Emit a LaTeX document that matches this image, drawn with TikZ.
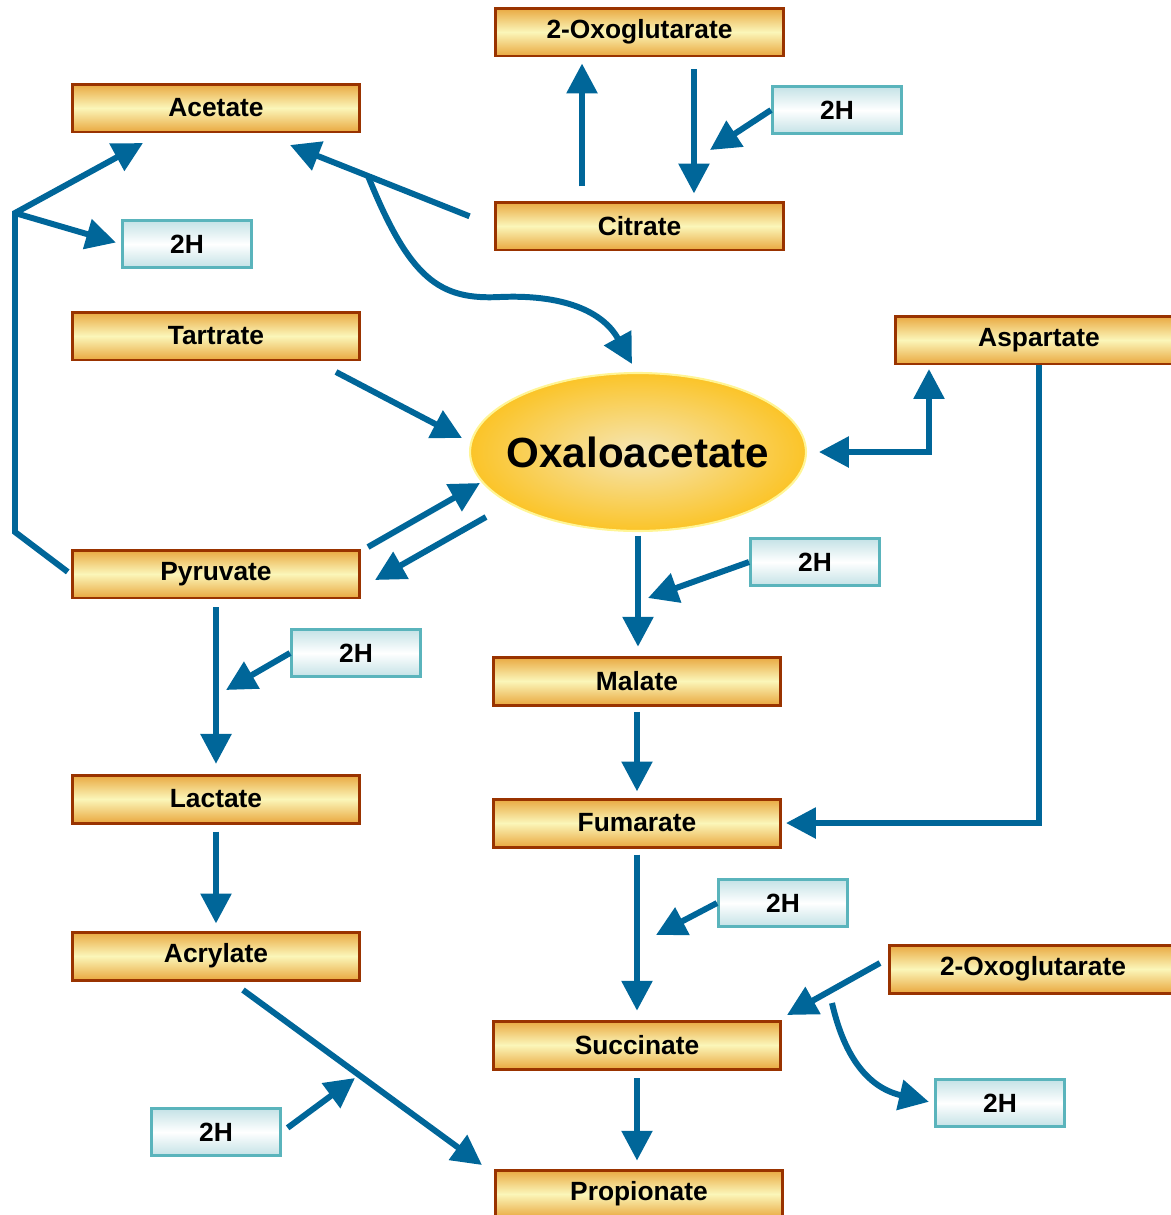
\documentclass[tikz,border=0pt]{standalone}
\usepackage{fontspec}
\setmainfont{Liberation Sans}
\usetikzlibrary{arrows.meta,shapes.geometric}
\definecolor{flow}{RGB}{0,102,153}
\definecolor{boxedge}{RGB}{153,51,0}
\definecolor{boxdark}{RGB}{233,168,64}
\definecolor{boxlight}{RGB}{251,246,185}
\definecolor{hedge}{RGB}{90,180,188}
\definecolor{hdark}{RGB}{196,226,230}
\definecolor{oxin}{RGB}{245,230,182}
\definecolor{oxout}{RGB}{251,196,40}
\definecolor{oxedge}{RGB}{255,245,150}

\begin{document}
\begin{tikzpicture}[x=0.02cm,y=-0.02cm,
    metab/.style={draw=boxedge,line width=1.7pt,top color=boxdark,bottom color=boxdark,middle color=boxlight,
      minimum width=5.76cm,minimum height=0.96cm,inner sep=0pt,font=\fontsize{15}{18}\selectfont\bfseries},
    hbox/.style={draw=hedge,line width=1.7pt,top color=hdark,bottom color=hdark,middle color=white,
      minimum width=2.58cm,minimum height=0.94cm,inner sep=0pt,font=\fontsize{15}{18}\selectfont\bfseries},
    arr/.style={draw=flow,line width=3.4pt,-{Triangle[length=17pt,width=17pt]}},
    arrb/.style={draw=flow,line width=3.4pt,{Triangle[length=17pt,width=17pt]}-{Triangle[length=17pt,width=17pt]}}]
        \useasboundingbox (0,0) rectangle (1171,1215);
        \node[metab] (oxotop) at (639.5,32) {2-Oxoglutarate};
        \node[metab] (acetate) at (216,108) {Acetate};
        \node[metab] (citrate) at (639.5,226) {Citrate};
        \node[metab] (tartrate) at (216,336) {Tartrate};
        \node[metab] (asp) at (1039,340) {Aspartate};
        \node[metab] (pyruvate) at (216,574) {Pyruvate};
        \node[metab] (malate) at (637,681) {Malate};
        \node[metab] (lactate) at (216,799) {Lactate};
        \node[metab] (fumarate) at (637,823) {Fumarate};
        \node[metab] (acrylate) at (216,956) {Acrylate};
        \node[metab] (oxobot) at (1033,969) {2-Oxoglutarate};
        \node[metab] (succinate) at (637,1045) {Succinate};
        \node[metab] (propionate) at (639,1194) {Propionate};
        \node[hbox] (h2top) at (837,110) {2H};
        \node[hbox] (h2ac) at (187,244) {2H};
        \node[hbox] (h2ma) at (815,562) {2H};
        \node[hbox] (h2py) at (356,653) {2H};
        \node[hbox] (h2fu) at (783,903) {2H};
        \node[hbox] (h2br) at (1000,1103) {2H};
        \node[hbox] (h2bl) at (216,1132) {2H};
        \node[ellipse,draw=oxedge,line width=1.2pt,inner color=oxin,outer color=oxout,inner xsep=-0.3cm,inner ysep=0pt,
          minimum width=6.72cm,minimum height=3.16cm,font=\fontsize{24}{28}\selectfont\bfseries] (ox) at (638,452) {Oxaloacetate};
        \coordinate (lp1) at (15,532);
        \coordinate (lp2) at (15,213);
        \coordinate (acin) at (143,143);
        \coordinate (acin2) at (290,145);
        \coordinate (brk) at (368,176);
        \coordinate (t1) at (710,150);
        \coordinate (ta1) at (336,372);
        \coordinate (ta2) at (462,438);
        \coordinate (py1) at (368,547);
        \coordinate (py2) at (480,483);
        \coordinate (ox1) at (486,517);
        \coordinate (ox2) at (375,580);
        \coordinate (aspc) at (929,452);
        \coordinate (ma1) at (648,598);
        \coordinate (la1) at (226,690);
        \coordinate (fu1) at (656,935);
        \coordinate (ob1) at (880,963);
        \coordinate (su1) at (787,1015);
        \coordinate (su2) at (832,1003);
        \coordinate (ac1) at (243,990);
        \coordinate (pr1) at (482,1165);
        \coordinate (pr2) at (355,1078);
        \draw[arr,shorten <=2pt] (pyruvate.west) -- (lp1) -- (lp2) -- (acin);
        \draw[arr,shorten >=3pt] (lp2) -- (h2ac.west);
        \draw[arr,shorten <=15pt] (citrate.west) -- (acin2);
        \draw[arr] (brk) .. controls (410,280) and (440,300) .. (500,297) .. controls (570,294) and (605,315) .. (632,364);
        \draw[arr,shorten <=8pt,shorten >=3.4pt] ([xshift=-1.15cm]citrate.north) -- ([xshift=-1.15cm]oxotop.south);
        \draw[arr,shorten <=6.8pt,shorten >=4pt] ([xshift=1.09cm]oxotop.south) -- ([xshift=1.09cm]citrate.north);
        \draw[arr] (h2top.west) -- (t1);
        \draw[arr] (ta1) -- (ta2);
        \draw[arr] (py1) -- (py2);
        \draw[arr] (ox1) -- (ox2);
        \draw[arrb,shorten <=6.8pt,shorten >=2pt] (ox.east) -- (aspc) -- (aspc |- asp.south);
        \draw[arr,shorten >=2pt] (asp.south) -- (asp.south |- fumarate.east) -- (fumarate.east);
        \draw[arr,shorten <=2pt,shorten >=5pt] (ox.south) -- (ox.south |- malate.north);
        \draw[arr] (h2ma.west) -- (ma1);
        \draw[arr,shorten <=4.5pt,shorten >=5.5pt] (pyruvate.south) -- (lactate.north);
        \draw[arr] (h2py.west) -- (la1);
        \draw[arr,shorten <=3pt,shorten >=3.5pt] (malate.south) -- (fumarate.north);
        \draw[arr,shorten <=4pt,shorten >=4pt] (lactate.south) -- (acrylate.north);
        \draw[arr,shorten <=3.5pt,shorten >=5pt] (fumarate.south) -- (succinate.north);
        \draw[arr] (h2fu.west) -- (fu1);
        \draw[arr] (ob1) -- (su1);
        \draw[arr,shorten >=3pt] (su2) .. controls (845,1060) and (870,1088) .. (h2br.west);
        \draw[arr,shorten <=4.5pt,shorten >=4.5pt] (succinate.south) -- (succinate.south |- propionate.north);
        \draw[arr] (ac1) -- (pr1);
        \draw[arr,shorten <=4pt] (h2bl.east) -- (pr2);
      \end{tikzpicture}
\end{document}
